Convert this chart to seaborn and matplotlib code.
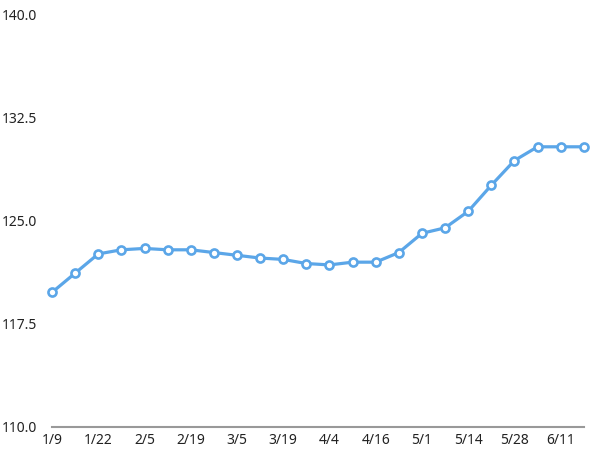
import matplotlib
matplotlib.use("Agg")
import matplotlib.pyplot as plt
import seaborn as sns
import pandas as pd

dates = ["1/9", "1/15", "1/22", "1/29", "2/5", "2/12", "2/19", "2/26",
         "3/5", "3/12", "3/19", "3/26", "4/4", "4/10", "4/16", "4/23",
         "5/1", "5/7", "5/14", "5/21", "5/28", "6/4", "6/11", "6/18"]
values = [119.8, 121.2, 122.6, 122.9, 123.0, 122.9, 122.9, 122.7,
          122.5, 122.3, 122.2, 121.9, 121.8, 122.0, 122.0, 122.7,
          124.1, 124.5, 125.7, 127.6, 129.4, 130.4, 130.4, 130.4]
yticks = [110.0, 117.5, 125.0, 132.5, 140.0]

df = pd.DataFrame({"idx": range(len(dates)), "date": dates, "value": values})

sns.set_style("white")
plt.rcParams["font.family"] = ["Noto Sans", "DejaVu Sans"]

fig = plt.figure(figsize=(6, 4.67), dpi=100)
ax = fig.add_axes([0.0867, 0.0857, 0.8863, 0.8823])

color = "#5ba6e8"
sns.lineplot(data=df, x="idx", y="value", ax=ax, color=color, linewidth=2.3,
             marker="o", markersize=5.8, markerfacecolor="white",
             markeredgecolor=color, markeredgewidth=1.9, clip_on=False)

ax.set_xlim(0, len(dates) - 1)
ax.set_ylim(110, 140)
ax.set_xticks(df["idx"][::2])
ax.set_xticklabels(df["date"][::2], fontsize=10, color="#222222")
ax.set_yticks(yticks)
ax.set_yticklabels([f"{v:.1f}" for v in yticks], fontsize=10, color="#222222")
ax.tick_params(axis="both", length=0)
ax.tick_params(axis="y", pad=11)
ax.tick_params(axis="x", pad=4)
ax.set_xlabel("")
ax.set_ylabel("")
for s in ["top", "right", "left"]:
    ax.spines[s].set_visible(False)
ax.spines["bottom"].set_color("#999999")
ax.spines["bottom"].set_linewidth(1.5)
ax.grid(False)

fig.savefig("out.png", dpi=100)
